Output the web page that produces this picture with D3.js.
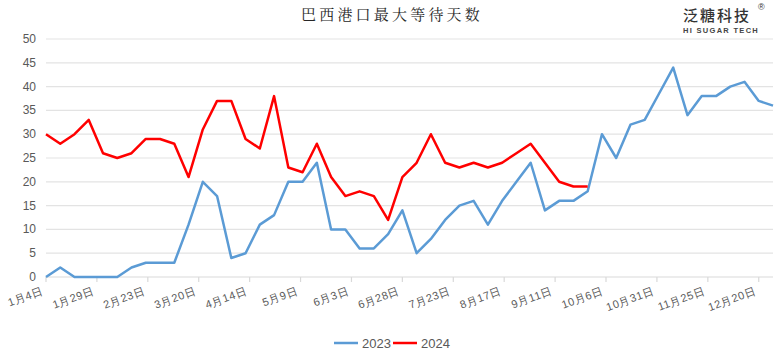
<!DOCTYPE html>
<html lang="zh">
<head>
<meta charset="UTF-8">
<title>巴西港口最大等待天数</title>
<script src="https://d3js.org/d3.v7.min.js"></script>
<style>
    body { margin: 0; background: #fff; }
    svg { display: block; font-family: "Liberation Sans", Arial, sans-serif; }
    .grid line { stroke: #e3e3e3; stroke-width: 1.2px; }
    .axis text { fill: #595959; font-size: 12px; }
    .legend text { fill: #595959; font-size: 13px; }
</style>
</head>
<body>
<svg width="783" height="352"></svg>
<script>
    // weekly data starting 1/4
    const startDate = new Date(2023, 0, 4);
    const weeks = d3.range(52).map(i => d3.timeDay.offset(startDate, i * 7));

    const values2023 = [0, 2, 0, 0, 0, 0, 2, 3, 3, 3, 11, 20, 17, 4, 5, 11, 13, 20, 20, 24,
        10, 10, 6, 6, 9, 14, 5, 8, 12, 15, 16, 11, 16, 20, 24, 14, 16, 16, 18, 30,
        25, 32, 33, 38.5, 44, 34, 38, 38, 40, 41, 37, 36];
    const values2024 = [30, 28, 30, 33, 26, 25, 26, 29, 29, 28, 21, 31, 37, 37, 29, 27, 38, 23, 22, 28,
        21, 17, 18, 17, 12, 21, 24, 30, 24, 23, 24, 23, 24, 26, 28, 24, 20, 19, 19];

    const yTicks = [0, 5, 10, 15, 20, 25, 30, 35, 40, 45, 50];
    const seriesNames = ["2023", "2024"];
    const seriesColors = ["#5b9bd5", "#ff0000"];

    const svg = d3.select("svg");
    const x = d3.scaleTime()
        .domain([startDate, weeks[weeks.length - 1]])
        .range([46, 773]);
    const y = d3.scaleLinear().domain([0, 50]).range([277, 39]);

    // title
    svg.append("text")
        .attr("x", 392).attr("y", 20)
        .attr("text-anchor", "middle")
        .style("font-family", "'Noto Serif CJK SC', 'Noto Sans CJK SC', serif")
        .style("font-size", "15px")
        .style("letter-spacing", "3.2px")
        .style("fill", "#262626")
        .text("巴西港口最大等待天数");

    // logo
    const logo = svg.append("g").attr("transform", "translate(683,0)");
    logo.append("text")
        .attr("x", 0).attr("y", 21)
        .style("font-family", "'Noto Sans CJK SC', sans-serif")
        .style("font-size", "15px")
        .style("font-weight", "500")
        .style("letter-spacing", "2px")
        .style("fill", "#333")
        .text("泛糖科技");
    logo.append("text")
        .attr("x", 75).attr("y", 10)
        .style("font-size", "9px")
        .style("fill", "#333")
        .text("®");
    logo.append("text")
        .attr("x", 0).attr("y", 33)
        .style("font-size", "7.5px")
        .style("font-weight", "bold")
        .style("letter-spacing", "1.3px")
        .style("fill", "#444")
        .text("HI SUGAR TECH");

    // gridlines
    svg.append("g").attr("class", "grid")
        .selectAll("line")
        .data(yTicks.filter(d => d > 0))
        .enter().append("line")
        .attr("x1", 46).attr("x2", 773)
        .attr("y1", d => y(d)).attr("y2", d => y(d));

    // y axis labels
    svg.append("g").attr("class", "axis")
        .selectAll("text")
        .data(yTicks)
        .enter().append("text")
        .attr("x", 36)
        .attr("y", d => y(d) + 4)
        .attr("text-anchor", "end")
        .text(d => d);

    // x axis
    const xTicks = d3.range(15).map(i => d3.timeDay.offset(startDate, i * 25));
    const xAxis = svg.append("g").attr("class", "axis");
    xAxis.append("line")
        .attr("x1", 46).attr("x2", 773)
        .attr("y1", y(0)).attr("y2", y(0))
        .attr("stroke", "#d9d9d9").attr("stroke-width", 1.2);
    xAxis.selectAll(".tick")
        .data(xTicks)
        .enter().append("line")
        .attr("x1", d => x(d)).attr("x2", d => x(d))
        .attr("y1", y(0)).attr("y2", y(0) + 5)
        .attr("stroke", "#d9d9d9").attr("stroke-width", 1.2);
    xAxis.selectAll(".lbl")
        .data(xTicks)
        .enter().append("text")
        .attr("transform", d => `translate(${x(d) - 2},${y(0) + 17}) rotate(-20)`)
        .attr("text-anchor", "end")
        .style("font-size", "11px")
        .style("letter-spacing", "0.6px")
        .text(d => (d.getMonth() + 1) + "月" + d.getDate() + "日");

    // lines
    const line = d3.line()
        .x((d, i) => x(weeks[i]))
        .y(d => y(d));
    [values2023, values2024].forEach((vals, k) => {
        svg.append("path")
            .datum(vals)
            .attr("fill", "none")
            .attr("stroke", seriesColors[k])
            .attr("stroke-width", 2.5)
            .attr("stroke-linejoin", "round")
            .attr("d", line);
    });

    // legend
    const legend = svg.append("g").attr("class", "legend");
    const legendX = [334, 393];
    seriesNames.forEach((name, k) => {
        legend.append("line")
            .attr("x1", legendX[k]).attr("x2", legendX[k] + 24)
            .attr("y1", 343).attr("y2", 343)
            .attr("stroke", seriesColors[k]).attr("stroke-width", 2.5);
        legend.append("text")
            .attr("x", legendX[k] + 28).attr("y", 348)
            .text(name);
    });
</script>
</body>
</html>
